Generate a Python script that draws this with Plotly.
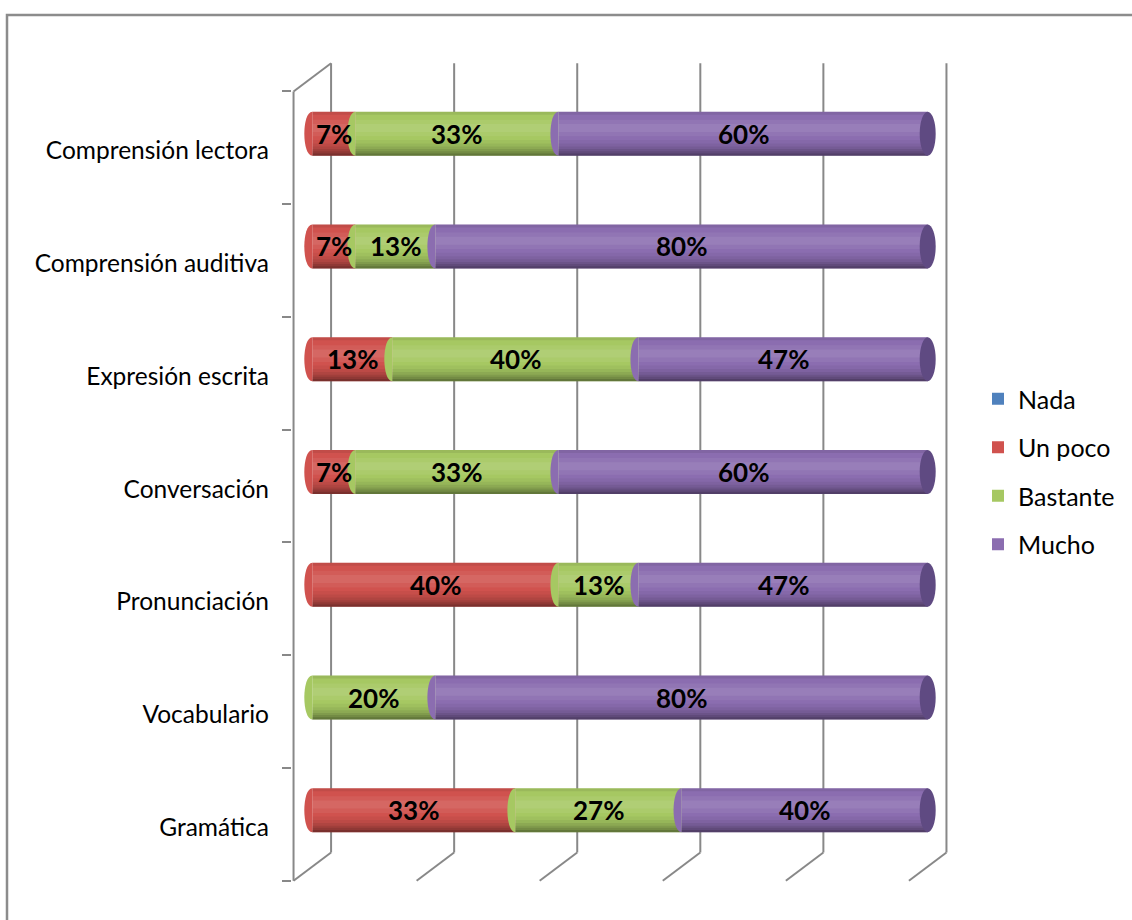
import plotly.graph_objects as go

# ---------------- data ----------------
categories = ["Gramática", "Vocabulario", "Pronunciación", "Conversación",
              "Expresión escrita", "Comprensión auditiva", "Comprensión lectora"]
series_names = ["Nada", "Un poco", "Bastante", "Mucho"]
nada = [0, 0, 0, 0, 0, 0, 0]
un_poco = [33, 0, 40, 7, 13, 7, 7]
bastante = [27, 20, 13, 33, 40, 13, 33]
mucho = [40, 80, 47, 60, 47, 80, 60]
x_ticks = [0, 20, 40, 60, 80, 100]

series_values = [nada, un_poco, bastante, mucho]
series_colors = ["#4F81BD", "#D0524E", "#A6C862", "#8B6DB0"]
cap_colors = ["#3D6698", "#9E3B38", "#7D9A45", "#5F4A82"]

# ---------------- geometry (style) ----------------
W, H = 1132, 920
ML, MR, MT, MB = 292, 184, 61, 37
XR = [-3.3, 103.3]
YR = [-0.52, 6.77]
DX = 3.05      # half depth along x (data units)
DY = 0.125     # half depth along y (data units)
BW = 0.39      # bar thickness
HW = 1.3       # half width of end ellipse (x units)
grid_col = "#888888"
FONT = "Lato"

def px_x(px):
    return (px - ML) / (W - ML - MR)

def px_y(py):
    return (H - MB - py) / (H - MT - MB)

pos = [i + DY for i in range(len(categories))]

fig = go.Figure()

bases = []
run = [0] * len(categories)
for vals in series_values:
    bases.append(list(run))
    run = [r + v for r, v in zip(run, vals)]

for name, vals, b, col in zip(series_names, series_values, bases, series_colors):
    fig.add_trace(go.Bar(
        y=pos, x=vals, base=b, orientation="h", name=name,
        marker=dict(color=col, line=dict(width=0)), width=BW,
        legendgroup=name, hoverinfo="skip"))

# nested cylinder shading bands (fraction of bar from bottom, overlay colour)
bands = [(0.00, 0.36, "rgba(0,0,0,0.04)"),
         (0.00, 0.28, "rgba(0,0,0,0.052)"),
         (0.00, 0.21, "rgba(0,0,0,0.066)"),
         (0.00, 0.15, "rgba(0,0,0,0.082)"),
         (0.00, 0.10, "rgba(0,0,0,0.103)"),
         (0.00, 0.05, "rgba(0,0,0,0.143)"),
         (0.44, 0.82, "rgba(255,255,255,0.06)"),
         (0.54, 0.72, "rgba(255,255,255,0.07)"),
         (0.93, 1.00, "rgba(0,0,0,0.07)")]
for vals, b in zip(series_values, bases):
    for lo, hi, c in bands:
        fig.add_trace(go.Bar(
            y=pos, x=vals, base=b, orientation="h", showlegend=False,
            marker=dict(color=c, line=dict(width=0)),
            width=BW * (hi - lo), offset=-BW / 2 + BW * lo, hoverinfo="skip"))

shapes = []
for si, (vals, b) in enumerate(zip(series_values, bases)):
    for ci in range(len(categories)):
        v = vals[ci]
        if v <= 0:
            continue
        s = b[ci]
        yc = pos[ci]
        y0, y1 = yc - BW / 2, yc + BW / 2
        k = HW * 4 / 3
        path = f"M {s},{y1} C {s - k},{y1} {s - k},{y0} {s},{y0} Z"
        shapes.append(dict(type="path", path=path, xref="x", yref="y",
                           fillcolor=series_colors[si], line=dict(width=0),
                           layer="above"))
for ci in range(len(categories)):
    total = run[ci]
    last = max(i for i in range(len(series_values)) if series_values[i][ci] > 0)
    yc = pos[ci]
    shapes.append(dict(type="circle", xref="x", yref="y",
                       x0=total - HW, x1=total + HW,
                       y0=yc - BW / 2, y1=yc + BW / 2,
                       fillcolor=cap_colors[last], line=dict(width=0),
                       layer="above"))

# value labels (annotations so they sit above the cylinder shapes)
annotations = []
for vals, b in zip(series_values, bases):
    for ci in range(len(categories)):
        v = vals[ci]
        if v <= 0:
            continue
        annotations.append(dict(x=b[ci] + v / 2, y=pos[ci], xref="x", yref="y",
                                text=f"{v}%", showarrow=False,
                                font=dict(family=FONT, size=26, color="black", weight="bold")))

y_front_bot = -0.5
y_front_top = len(categories) - 0.5
for t in x_ticks:
    shapes.append(dict(type="line", xref="x", yref="y", layer="below",
                       x0=t + DX, x1=t + DX, y0=y_front_bot + 2 * DY, y1=y_front_top + 2 * DY,
                       line=dict(color=grid_col, width=2)))
    shapes.append(dict(type="line", xref="x", yref="y", layer="below",
                       x0=t + DX, x1=t - DX, y0=y_front_bot + 2 * DY, y1=y_front_bot,
                       line=dict(color=grid_col, width=2)))
shapes.append(dict(type="line", xref="x", yref="y", layer="below",
                   x0=-DX, x1=-DX, y0=y_front_bot, y1=y_front_top,
                   line=dict(color=grid_col, width=2)))
shapes.append(dict(type="line", xref="x", yref="y", layer="below",
                   x0=-DX, x1=DX, y0=y_front_top, y1=y_front_top + 2 * DY,
                   line=dict(color=grid_col, width=2)))
shapes.append(dict(type="rect", xref="paper", yref="paper",
                   x0=px_x(7), x1=px_x(1150), y0=px_y(940), y1=px_y(15),
                   line=dict(color="#8C8C8C", width=2.5), fillcolor="rgba(0,0,0,0)",
                   layer="below"))

fig.update_layout(
    width=W, height=H,
    margin=dict(l=ML, r=MR, t=MT, b=MB, autoexpand=False),
    barmode="overlay",
    plot_bgcolor="white", paper_bgcolor="white",
    font=dict(family=FONT, size=22, color="black"),
    shapes=shapes,
    annotations=annotations,
    hovermode=False,
    showlegend=True,
    legend=dict(x=px_x(978), y=px_y(376), xanchor="left", yanchor="top",
                font=dict(family=FONT, size=25), traceorder="grouped",
                tracegroupgap=13, itemclick=False, bgcolor="rgba(0,0,0,0)"),
    xaxis=dict(range=XR, showgrid=False, zeroline=False, showticklabels=False,
               showline=False, ticks=""),
    yaxis=dict(range=YR, showgrid=False, zeroline=False, showline=False,
               tickmode="array", tickvals=list(range(len(categories))),
               ticktext=categories, ticks="", ticklabelstandoff=22,
               ticklabelshift=3,
               tickfont=dict(family=FONT, size=24.5),
               minor=dict(tickmode="array",
                          tickvals=[i - 0.5 for i in range(len(categories) + 1)],
                          ticks="outside", ticklen=9, tickcolor=grid_col, tickwidth=2)),
)

fig.write_html("out.html", post_script="document.body.style.margin='0px';",
               config={"displayModeBar": False})
